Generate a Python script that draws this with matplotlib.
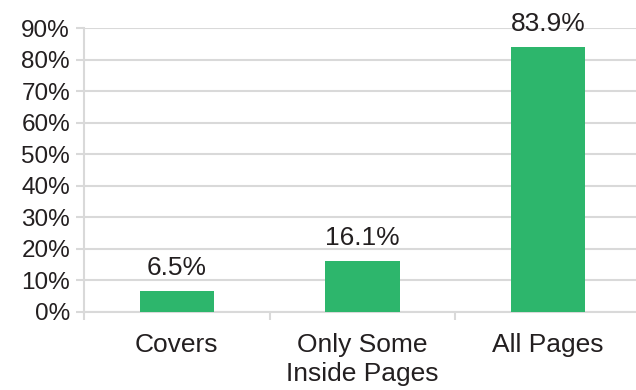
import numpy as np
import matplotlib.pyplot as plt
from matplotlib.ticker import FixedLocator

plt.rcParams['font.family'] = ['Liberation Sans', 'DejaVu Sans']

categories = ['Covers', 'Only Some\nInside Pages', 'All Pages']
values = [6.5, 16.1, 83.9]
labels = ['6.5%', '16.1%', '83.9%']

grid_col = '#d9d9d9'
bar_col = '#2db66c'
text_col = '#231f20'

fig = plt.figure(figsize=(6.36, 3.9), dpi=100)
ax = fig.add_axes([0.132, 0.2, 0.876, 0.728])

x = np.arange(len(categories))
ax.bar(x, values, width=0.4, color=bar_col, zorder=3)
for xi, v, lab in zip(x, values, labels):
    ax.annotate(lab, (xi, v), xytext=(0, 8), textcoords='offset points',
                ha='center', va='bottom', fontsize=19, color=text_col)

ax.set_xlim(-0.5, 2.5)
ax.set_ylim(0, 90)
ax.set_yticks(np.arange(0, 91, 10))
ax.set_yticklabels([f'{t}%' for t in range(0, 91, 10)])
ax.yaxis.grid(True, color=grid_col, linewidth=1.5, zorder=0)

ax.set_xticks(x)
ax.set_xticklabels(categories, linespacing=1.25)
ax.xaxis.set_minor_locator(FixedLocator([-0.5, 0.5, 1.5, 2.5]))
ax.tick_params(axis='x', which='major', length=0, pad=15, labelsize=19, labelcolor=text_col)
ax.tick_params(axis='x', which='minor', length=6, width=1.5, color=grid_col)
ax.tick_params(axis='y', length=6, width=1.5, color=grid_col, pad=4, labelsize=17.5, labelcolor=text_col)

for s in ['top', 'right']:
    ax.spines[s].set_visible(False)
for s in ['left', 'bottom']:
    ax.spines[s].set_color(grid_col)
    ax.spines[s].set_linewidth(1.5)

fig.savefig('out.png', dpi=100)
